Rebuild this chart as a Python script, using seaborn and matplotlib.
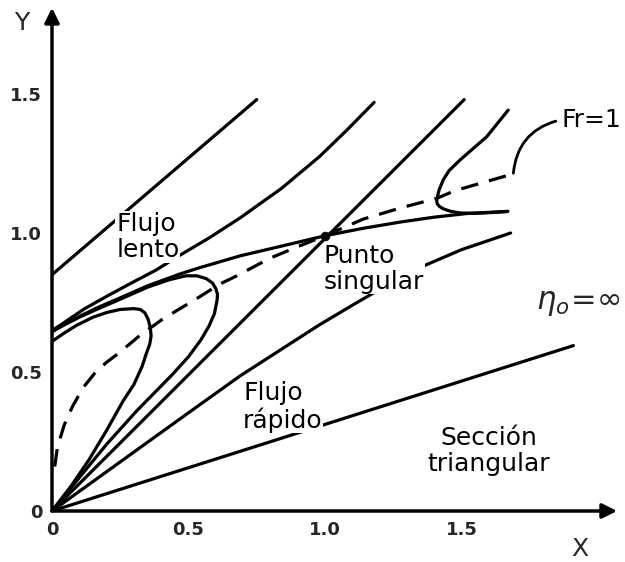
import numpy as np
import matplotlib
matplotlib.use('Agg')
import matplotlib.pyplot as plt
import seaborn as sns

# curves (X, Y)
line_a_x = [0.0, 0.75]
line_a_y = [0.85, 1.48]

curve_b_x = [0.0, 0.03, 0.07, 0.12, 0.2, 0.3, 0.38, 0.46, 0.58, 0.69, 0.84, 0.98, 1.08, 1.18]
curve_b_y = [0.65, 0.668, 0.695, 0.728, 0.772, 0.825, 0.866, 0.915, 0.985, 1.055, 1.16, 1.275, 1.37, 1.47]

curve_c_x = [0.0, 0.04, 0.1, 0.17, 0.234, 0.35, 0.467, 0.54, 0.69, 0.85, 1.0, 1.14, 1.28, 1.40, 1.52, 1.67]
curve_c_y = [0.645, 0.668, 0.70, 0.733, 0.76, 0.81, 0.852, 0.875, 0.918, 0.955, 0.99, 1.017, 1.04, 1.057, 1.07, 1.078]

loop_outer_x = [0.0, 0.04, 0.1, 0.17, 0.234, 0.35, 0.43, 0.49, 0.53, 0.565, 0.588, 0.60, 0.606, 0.605,
                0.595, 0.575, 0.545, 0.50, 0.44, 0.38, 0.31, 0.2, 0.1, 0.0]
loop_outer_y = [0.645, 0.667, 0.697, 0.728, 0.755, 0.805, 0.832, 0.846, 0.846, 0.836, 0.82, 0.80, 0.78, 0.76,
                0.71, 0.665, 0.615, 0.555, 0.49, 0.43, 0.36, 0.24, 0.12, 0.0]

loop_inner_x = [0.0, 0.04, 0.09, 0.15, 0.2, 0.25, 0.30, 0.323, 0.34, 0.352, 0.36, 0.363, 0.358,
                0.345, 0.33, 0.30, 0.26, 0.2, 0.136, 0.07, 0.0]
loop_inner_y = [0.61, 0.637, 0.668, 0.697, 0.714, 0.725, 0.728, 0.725, 0.713, 0.69, 0.66, 0.63, 0.60,
                0.565, 0.52, 0.455, 0.395, 0.29, 0.185, 0.09, 0.0]

diag_x = [0.0, 1.51]
diag_y = [0.0, 1.48]

curve_i_x = [0.0, 0.467, 0.6875, 0.98, 1.10, 1.31, 1.50, 1.68]
curve_i_y = [0.0, 0.33, 0.485, 0.67, 0.74, 0.86, 0.94, 1.0]

low_x = [0.0, 1.91]
low_y = [0.0, 0.595]

hook_x = [1.671, 1.592, 1.495, 1.455, 1.433, 1.418, 1.409, 1.411, 1.42, 1.433, 1.46, 1.495, 1.543, 1.60, 1.666]
hook_y = [1.442, 1.346, 1.263, 1.225, 1.191, 1.155, 1.119, 1.105, 1.095, 1.087, 1.078, 1.072, 1.071, 1.073, 1.077]

fr1_x = [0.01, 0.02, 0.045, 0.075, 0.115, 0.16, 0.2, 0.246, 0.32, 0.405, 0.54, 0.614, 0.675, 0.8, 0.908, 1.0,
         1.14, 1.276, 1.41, 1.478, 1.69]
fr1_y = [0.16, 0.23, 0.31, 0.376, 0.445, 0.50, 0.535, 0.569, 0.63, 0.69, 0.77, 0.816, 0.845, 0.91, 0.954, 0.99,
         1.05, 1.09, 1.125, 1.153, 1.213]

singular_x = [1.0]
singular_y = [0.99]

x_ticks = [0, 0.5, 1.0, 1.5]
x_tick_labels = ['0', '0.5', '1.0', '1.5']
y_ticks = [0, 0.5, 1.0, 1.5]
y_tick_labels = ['0', '0.5', '1.0', '1.5']

sns.set_style('white')
plt.rcParams['font.family'] = ['DejaVu Sans']

fig = plt.figure(figsize=(6.25, 5.62), dpi=100)
ax = fig.add_axes([52 / 625, 51 / 562, 2.0 * 273 / 625, 1.8 * 278 / 562])

solid = [(line_a_x, line_a_y), (curve_b_x, curve_b_y), (curve_c_x, curve_c_y),
         (loop_outer_x, loop_outer_y), (loop_inner_x, loop_inner_y),
         (diag_x, diag_y), (curve_i_x, curve_i_y), (low_x, low_y), (hook_x, hook_y)]
for xs, ys in solid:
    sns.lineplot(x=xs, y=ys, sort=False, estimator=None, color='black', lw=2.3, ax=ax, zorder=2)

sns.lineplot(x=fr1_x, y=fr1_y, sort=False, estimator=None, color='black', lw=2.3,
             ax=ax, zorder=2, linestyle=(0, (5.5, 3.5)))
sns.scatterplot(x=singular_x, y=singular_y, color='black', s=40, ax=ax, zorder=2, edgecolor='black')

ax.set_xlim(0, 2.0)
ax.set_ylim(0, 1.8)
for s in ax.spines.values():
    s.set_visible(False)

# axes drawn as arrows
arrow = dict(arrowstyle='-|>', lw=2.5, color='black', mutation_scale=22, shrinkA=0, shrinkB=0)
ax.annotate('', xy=(2.07, 0), xytext=(0, 0), arrowprops=arrow, annotation_clip=False)
ax.annotate('', xy=(0, 1.81), xytext=(0, 0), arrowprops=arrow, annotation_clip=False)

ax.set_xticks(x_ticks)
ax.set_xticklabels(x_tick_labels, fontsize=13, fontweight='bold')
ax.set_yticks(y_ticks)
ax.set_yticklabels(y_tick_labels, fontsize=13, fontweight='bold')
ax.tick_params(axis='x', direction='in', length=9, width=1.8, pad=7)
ax.tick_params(axis='y', direction='in', length=12, width=1.8, pad=7)
ax.xaxis.get_major_ticks()[0].tick1line.set_visible(False)
ax.yaxis.get_major_ticks()[0].tick1line.set_visible(False)

box = dict(facecolor='white', edgecolor='none', pad=0.5)
txt = dict(fontsize=18, color='black', zorder=3, linespacing=1.1)
ax.text(0.235, 0.985, 'Flujo\nlento', ha='left', va='center', bbox=box, **txt)
ax.text(0.995, 0.872, 'Punto\nsingular', ha='left', va='center', bbox=box, **txt)
ax.text(0.70, 0.375, 'Flujo\nrápido', ha='left', va='center', bbox=box, **txt)
ax.text(1.60, 0.215, 'Sección\ntriangular', ha='center', va='center', multialignment='center', **txt)
ax.text(1.93, 0.745, r'$\eta_o\!=\!\infty$', ha='center', va='center', fontsize=22, zorder=3)
ax.text(1.865, 1.405, 'Fr=1', ha='left', va='center', **txt)
ax.annotate('', xy=(1.69, 1.215), xytext=(1.855, 1.405),
            arrowprops=dict(arrowstyle='-', lw=2, color='black', shrinkA=2, shrinkB=0,
                            connectionstyle='arc3,rad=0.35'),
            annotation_clip=False)

ax.text(1.935, -0.135, 'X', ha='center', va='center', fontsize=18, clip_on=False)
ax.text(-0.11, 1.755, 'Y', ha='center', va='center', fontsize=18, clip_on=False)

fig.savefig('out.png', dpi=100, facecolor='white')
